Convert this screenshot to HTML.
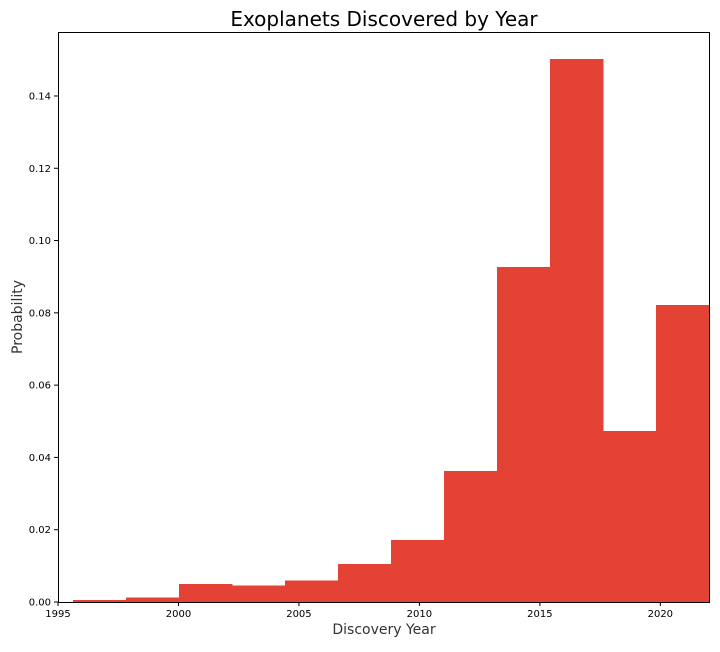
<!DOCTYPE html>
<html><head><meta charset="utf-8"><style>
body{margin:0;background:#fff;font-family:"DejaVu Sans","Liberation Sans",sans-serif}
</style></head><body>
<svg id="chart" width="720" height="648" xmlns="http://www.w3.org/2000/svg" font-family="DejaVu Sans, Liberation Sans, sans-serif">
<rect width="720" height="648" fill="#fff"/>
<text x="384" y="26" text-anchor="middle" font-size="20" fill="#000">Exoplanets Discovered by Year</text>
<g id="bars" shape-rendering="crispEdges"></g>
<g id="xticks"></g>
<g id="yticks"></g>
<rect x="58.5" y="32.5" width="651" height="570" fill="none" stroke="#000" stroke-width="1"/>
<text x="384" y="634" text-anchor="middle" font-size="14" fill="#333">Discovery Year</text>
<text transform="translate(22,317) rotate(-90)" text-anchor="middle" font-size="14" fill="#333">Probability</text>
</svg>
<script>
const binStart = 1995.62;
const binWidth = 2.2;
const values = [0.0005,0.0012,0.005,0.0045,0.006,0.0105,0.0172,0.0362,0.0927,0.1502,0.0473,0.0822];
const xTickLabels = ["1995","2000","2005","2010","2015","2020"];
const yTickLabels = ["0.00","0.02","0.04","0.06","0.08","0.10","0.12","0.14"];
const NS="http://www.w3.org/2000/svg";
const X0=58,X1=709,Y0=602,Y1=32;
const xMin=1995,xMax=2022.02,yMin=0,yMax=0.1577;
const xs=v=>X0+(v-xMin)/(xMax-xMin)*(X1-X0);
const ys=v=>Y0-(v-yMin)/(yMax-yMin)*(Y0-Y1);
const bars=document.getElementById('bars');
values.forEach((v,i)=>{
  const r=document.createElementNS(NS,'rect');
  const a=Math.round(xs(binStart+i*binWidth)), b=Math.round(xs(binStart+(i+1)*binWidth));
  r.setAttribute('x',a);r.setAttribute('width',b-a+0.5);
  r.setAttribute('y',ys(v));r.setAttribute('height',ys(0)-ys(v));
  r.setAttribute('fill','#e34234');
  
  
  bars.appendChild(r);
});
const xt=document.getElementById('xticks');
xTickLabels.forEach(l=>{
  const x=xs(+l);
  const ln=document.createElementNS(NS,'line');
  ln.setAttribute('x1',x);ln.setAttribute('x2',x);ln.setAttribute('y1',602);ln.setAttribute('y2',606);ln.setAttribute('stroke','#000');
  
  
  xt.appendChild(ln);
  const t=document.createElementNS(NS,'text');
  t.setAttribute('x',x);t.setAttribute('y',617);t.setAttribute('text-anchor','middle');t.setAttribute('font-size','10');
  t.textContent=l;
  
  
  xt.appendChild(t);
});
const yt=document.getElementById('yticks');
yTickLabels.forEach(l=>{
  const y=ys(+l);
  const ln=document.createElementNS(NS,'line');
  ln.setAttribute('x1',54);ln.setAttribute('x2',58);ln.setAttribute('y1',y);ln.setAttribute('y2',y);ln.setAttribute('stroke','#000');
  
  
  yt.appendChild(ln);
  const t=document.createElementNS(NS,'text');
  t.setAttribute('x',51);t.setAttribute('y',y+3.5);t.setAttribute('text-anchor','end');t.setAttribute('font-size','10');
  t.textContent=l;
  
  
  yt.appendChild(t);
});
</script>
</body></html>
